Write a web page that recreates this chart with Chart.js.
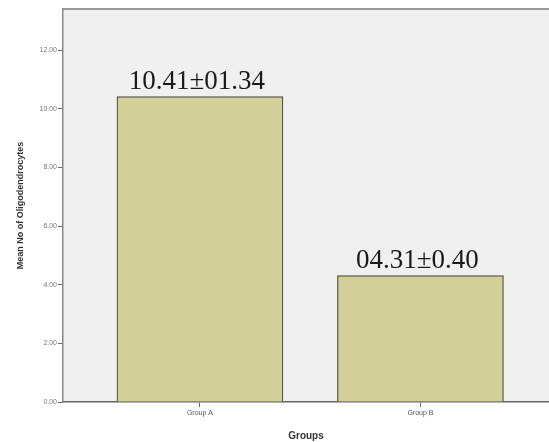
<!DOCTYPE html>
<html>
<head>
<meta charset="utf-8">
<script src="https://cdn.jsdelivr.net/npm/chart.js@4"></script>
<style>
  html, body { margin: 0; padding: 0; background: #fff; }
  #wrap { width: 549px; height: 442px; }
</style>
</head>
<body>
<div id="wrap"><canvas id="miGrafico" width="549" height="442"></canvas></div>
<script>
const groups = ['Group A', 'Group B'];
const means = [10.41, 4.31];
const labels = ['10.41\u00b101.34', '04.31\u00b10.40'];
const yTicks = [0, 2, 4, 6, 8, 10, 12];

// background + top frame + value labels
const spssLook = {
    id: 'spssLook',
    beforeDraw(chart) {
        const { ctx, chartArea: a } = chart;
        ctx.save();
        ctx.fillStyle = '#f0f0f0';
        ctx.fillRect(a.left, a.top, a.right - a.left, a.bottom - a.top);
        ctx.strokeStyle = '#9a9a9a';
        ctx.lineWidth = 2;
        ctx.beginPath();
        ctx.moveTo(a.left, a.top);
        ctx.lineTo(a.right, a.top);
        ctx.stroke();
        ctx.restore();
    },
    afterDatasetsDraw(chart) {
        const { ctx } = chart;
        const meta = chart.getDatasetMeta(0);
        ctx.save();
        ctx.font = '27px "Liberation Serif", "Times New Roman", serif';
        ctx.fillStyle = '#1a1a1a';
        ctx.textAlign = 'center';
        ctx.textBaseline = 'alphabetic';
        meta.data.forEach((bar, i) => {
            ctx.fillText(labels[i], bar.x - 3, bar.y - 8);
        });
        ctx.restore();
    }
};

const ctx = document.getElementById('miGrafico').getContext('2d');
const miGrafico = new Chart(ctx, {
    type: 'bar',
    data: {
        datasets: [{
            data: means.map((v, i) => ({ x: i, y: v })),
            backgroundColor: '#d3cf99',
            borderColor: '#4a4a38',
            borderWidth: 1.2,
            borderSkipped: 'bottom',
            barThickness: 166
        }]
    },
    plugins: [spssLook],
    options: {
        responsive: false,
        animation: false,
        layout: { padding: { top: 9, right: 0, left: 0, bottom: 0 } },
        plugins: { legend: { display: false }, tooltip: { enabled: false } },
        scales: {
            x: {
                type: 'linear',
                offset: false,
                min: -0.621,
                max: 1.583,
                afterBuildTicks: (scale) => { scale.ticks = groups.map((g, i) => ({ value: i })); },
                ticks: {
                    autoSkip: false,
                    maxRotation: 0,
                    padding: 2,
                    color: '#555',
                    font: { family: 'Arial, "Liberation Sans", sans-serif', size: 7 },
                    callback: (v) => groups[v]
                },
                grid: { drawOnChartArea: false, offset: false, tickLength: 5, color: '#666' },
                border: { color: '#666', width: 1.5 },
                title: {
                    display: true,
                    text: 'Groups',
                    color: '#333',
                    padding: { top: 8, bottom: 0 },
                    font: { family: 'Arial, "Liberation Sans", sans-serif', size: 10, weight: 'bold' }
                },
                afterFit: (scale) => { scale.height = 40; }
            },
            y: {
                min: 0,
                max: 13.4,
                afterBuildTicks: (scale) => { scale.ticks = yTicks.map(v => ({ value: v })); },
                ticks: {
                    padding: 1,
                    color: '#777',
                    font: { family: 'Arial, "Liberation Sans", sans-serif', size: 7 },
                    callback: (v) => Number(v).toFixed(2)
                },
                grid: { drawOnChartArea: false, tickLength: 5, color: '#666' },
                border: { color: '#888', width: 1.5 },
                title: {
                    display: true,
                    text: 'Mean No of Oligodendrocytes',
                    color: '#333',
                    padding: { top: 15, bottom: 4 },
                    font: { family: 'Arial, "Liberation Sans", sans-serif', size: 9, weight: 'bold' }
                },
                afterFit: (scale) => { scale.width = 63; }
            }
        }
    }
});
</script>
</body>
</html>
